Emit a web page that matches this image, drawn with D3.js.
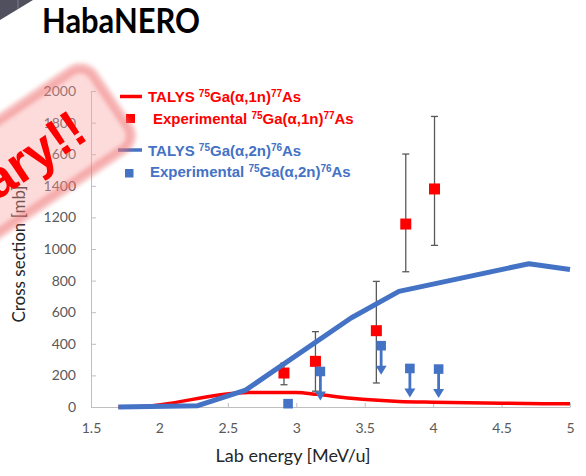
<!DOCTYPE html>
<html>
<head>
<meta charset="utf-8">
<script src="https://cdn.jsdelivr.net/npm/d3@7"></script>
<style>
  body { margin: 0; background: #fff; }
  svg { display: block; }
  .tick text { font-family: Lato, sans-serif; font-size: 14px; fill: #595959; }
  .tick line { stroke: #bfbfbf; }
  .legend { font-family: "Liberation Sans", Arial, sans-serif; font-weight: bold; font-size: 15px; }
</style>
</head>
<body>
<svg id="chart" width="586" height="476"></svg>
<script>
// TALYS calculations (lab energy in MeV/u, cross section in mb)
let talys1nE = [1.7, 1.85, 2.65, 3.0, 3.15, 3.4, 3.75, 4.0, 4.5, 5.0]
let talys1nXs = [0, 2, 92, 92, 80, 55, 35, 30, 24, 20]
let talys2nE = [1.7, 2.28, 2.63, 3.4, 3.75, 4.7, 5.0]
let talys2nXs = [0, 8, 107, 563, 732, 907, 870]

// experimental 75Ga(a,1n)77As with error bars
let exp1nE = [2.91, 3.14, 3.585, 3.80, 4.01]
let exp1nXs = [215, 289, 483, 1158, 1380]
let exp1nLo = [141, 100, 152, 856, 1023]
let exp1nHi = [278, 477, 795, 1601, 1839]

// experimental 75Ga(a,2n)76As, upper limits get an arrow
let exp2nE = [2.94, 3.176, 3.62, 3.83, 4.04]
let exp2nXs = [21, 225, 388, 244, 240]
let exp2nLimit = [false, true, true, true, true]

let xTicks = [1.5, 2, 2.5, 3, 3.5, 4, 4.5, 5]
let yTicks = [0, 200, 400, 600, 800, 1000, 1200, 1400, 1600, 1800, 2000]

let red = "#ff0000"
let blue = "#4472c4"

let svg = d3.select("#chart")

let x = d3.scaleLinear().domain([1.5, 5]).range([91, 570])
let y = d3.scaleLinear().domain([0, 2000]).range([407, 91])

// slide corner + title
svg.append("polygon")
  .attr("points", "0,0 33,0 0,20")
  .attr("fill", "#50505f")
svg.append("line")
  .attr("x1", 18).attr("y1", 0).attr("x2", 18).attr("y2", 9)
  .attr("stroke", "#7c7c8c")

svg.append("text")
  .attr("x", 42)
  .attr("y", 33)
  .attr("textLength", 158)
  .attr("lengthAdjust", "spacingAndGlyphs")
  .style("font-family", "Lato, sans-serif")
  .style("font-weight", "bold")
  .style("font-size", "34px")
  .text("HabaNERO")

// axes
let xAxis = svg.append("g")
  .attr("transform", "translate(0,407)")
  .call(d3.axisBottom(x).tickValues(xTicks).tickSizeInner(-4).tickSizeOuter(0).tickPadding(16).tickFormat(d => d))
xAxis.select(".domain").attr("stroke", "#bfbfbf")

let yAxis = svg.append("g")
  .attr("transform", "translate(91,0)")
  .call(d3.axisLeft(y).tickValues(yTicks).tickSizeInner(-5).tickSizeOuter(0).tickPadding(15).tickFormat(d => d))
yAxis.select(".domain").attr("stroke", "#bfbfbf")

svg.append("text")
  .attr("transform", "translate(25,254) rotate(-90)")
  .attr("text-anchor", "middle")
  .style("font-family", "Lato, sans-serif")
  .style("font-size", "17px")
  .style("fill", "#262626")
  .text("Cross section [mb]")

svg.append("text")
  .attr("x", 293)
  .attr("y", 462)
  .attr("text-anchor", "middle")
  .style("font-family", "Lato, sans-serif")
  .style("font-size", "18px")
  .style("fill", "#262626")
  .text("Lab energy [MeV/u]")

// lines
let line = d3.line().x(d => x(d[0])).y(d => y(d[1]))

svg.append("path")
  .datum(d3.zip(talys1nE, talys1nXs))
  .attr("fill", "none")
  .attr("stroke", red)
  .attr("stroke-width", 3.5)
  .attr("d", line.curve(d3.curveMonotoneX))

let exp1 = d3.zip(exp1nE, exp1nXs, exp1nLo, exp1nHi)

// error bars
let eb = svg.append("g").attr("stroke", "#595959").attr("stroke-width", 1.3)
eb.selectAll(".bar").data(exp1).join("line").attr("class", "bar")
  .attr("x1", d => x(d[0])).attr("x2", d => x(d[0]))
  .attr("y1", d => y(d[2])).attr("y2", d => y(d[3]))
eb.selectAll(".capHi").data(exp1).join("line").attr("class", "capHi")
  .attr("x1", d => x(d[0]) - 3.5).attr("x2", d => x(d[0]) + 3.5)
  .attr("y1", d => y(d[3])).attr("y2", d => y(d[3]))
eb.selectAll(".capLo").data(exp1).join("line").attr("class", "capLo")
  .attr("x1", d => x(d[0]) - 3.5).attr("x2", d => x(d[0]) + 3.5)
  .attr("y1", d => y(d[2])).attr("y2", d => y(d[2]))

svg.append("g").selectAll("rect").data(exp1).join("rect")
  .attr("x", d => x(d[0]) - 5.5)
  .attr("y", d => y(d[1]) - 5.5)
  .attr("width", 11).attr("height", 11)
  .attr("fill", red)

svg.append("path")
  .datum(d3.zip(talys2nE, talys2nXs))
  .attr("fill", "none")
  .attr("stroke", blue)
  .attr("stroke-width", 5)
  .attr("stroke-linejoin", "round")
  .attr("d", line.curve(d3.curveLinear))

// blue points and upper-limit arrows
let exp2 = d3.zip(exp2nE, exp2nXs, exp2nLimit)
let arrowLen = 29
let arrows = svg.append("g").selectAll("g").data(exp2.filter(d => d[2])).join("g")
  .attr("transform", d => `translate(${x(d[0])},${y(d[1])})`)
arrows.append("line")
  .attr("x1", 0).attr("x2", 0).attr("y1", 0).attr("y2", arrowLen - 7)
  .attr("stroke", blue).attr("stroke-width", 2.8)
arrows.append("path")
  .attr("d", `M-5.5,${arrowLen - 9} L5.5,${arrowLen - 9} L0,${arrowLen} Z`)
  .attr("fill", blue)

svg.append("g").selectAll("rect").data(exp2).join("rect")
  .attr("x", d => x(d[0]) - 4.8)
  .attr("y", d => y(d[1]) - 4.8)
  .attr("width", 9.6).attr("height", 9.6)
  .attr("fill", blue)

// legend; parts are plain strings or [superscript]
function legendText(g, tx, ty, color, parts) {
  let t = g.append("text").attr("x", tx).attr("y", ty).attr("fill", color)
  let raised = false
  parts.forEach(p => {
    if (Array.isArray(p)) {
      t.append("tspan").attr("dy", -5).style("font-size", "10px").text(p[0])
      raised = true
    } else {
      t.append("tspan").attr("dy", raised ? 5 : 0).text(p)
      raised = false
    }
  })
}

let legend = svg.append("g").attr("class", "legend")
legend.append("line").attr("x1", 120).attr("x2", 142).attr("y1", 96.5).attr("y2", 96.5)
  .attr("stroke", red).attr("stroke-width", 3.5)
legendText(legend, 148, 102, red, ["TALYS ", ["75"], "Ga(α,1n)", ["77"], "As"])
legend.append("rect").attr("x", 126).attr("y", 114).attr("width", 9).attr("height", 9).attr("fill", red)
legendText(legend, 153, 123.5, red, ["Experimental ", ["75"], "Ga(α,1n)", ["77"], "As"])
legend.append("line").attr("x1", 118).attr("x2", 142).attr("y1", 150).attr("y2", 150)
  .attr("stroke", blue).attr("stroke-width", 3.5)
legendText(legend, 148, 156, blue, ["TALYS ", ["75"], "Ga(α,2n)", ["76"], "As"])
legend.append("rect").attr("x", 125).attr("y", 169).attr("width", 8.5).attr("height", 8.5).attr("fill", blue)
legendText(legend, 150, 177, blue, ["Experimental ", ["75"], "Ga(α,2n)", ["76"], "As"])

// "Preliminary!!" stamp
let defs = svg.append("defs")
defs.append("filter").attr("id", "soft")
  .append("feGaussianBlur").attr("stdDeviation", 2)

let stamp = svg.append("g").attr("transform", "translate(90,138) rotate(-34)")
stamp.append("rect")
  .attr("x", -340).attr("y", -66).attr("width", 378).attr("height", 94)
  .attr("rx", 16)
  .attr("fill", "rgba(250,160,160,0.38)")
  .attr("stroke", "rgba(235,100,100,0.45)")
  .attr("stroke-width", 10)
  .attr("filter", "url(#soft)")
stamp.append("text")
  .attr("x", 0).attr("y", 0)
  .attr("text-anchor", "end")
  .attr("fill", red)
  .style("font-family", "'Liberation Sans', Arial, sans-serif")
  .style("font-weight", "bold")
  .style("font-size", "52px")
  .text("Preliminary!!")
</script>
</body>
</html>
